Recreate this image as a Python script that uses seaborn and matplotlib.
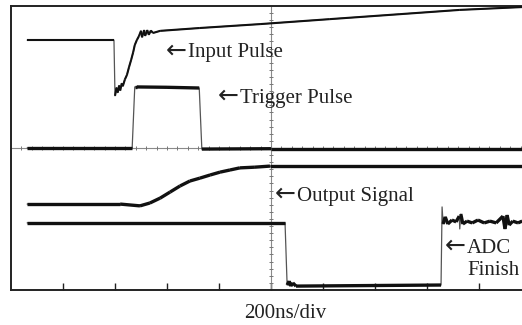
import numpy as np
import pandas as pd
import matplotlib
matplotlib.use("Agg")
import matplotlib.pyplot as plt
import seaborn as sns

# ---- data (time in divisions of 200 ns, amplitude in divisions) ----
input_t = [0.31, 1.98, 2.00, 2.03, 2.05, 2.08, 2.10, 2.13, 2.15, 2.19, 2.23, 2.27, 2.31, 2.35,
           2.38, 2.42, 2.46, 2.50, 2.52, 2.56, 2.58, 2.62, 2.65, 2.69, 2.73, 2.87, 3.63, 4.79,
           6.13, 7.48, 8.63, 9.83]
input_v = [3.04, 3.04, 1.47, 1.70, 1.56, 1.76, 1.62, 1.82, 1.74, 1.93, 2.06, 2.28, 2.48, 2.70,
           2.90, 3.04, 3.15, 3.30, 3.12, 3.32, 3.16, 3.32, 3.19, 3.31, 3.24, 3.30, 3.38, 3.49,
           3.63, 3.77, 3.89, 3.97]

trigger_t = [0.31, 2.33, 2.38, 2.42, 3.00, 3.62, 3.67, 5.00, 9.83]
trigger_v = [0.00, 0.00, 1.72, 1.72, 1.71, 1.69, -0.03, -0.02, -0.02]

output_t = [0.31, 2.10, 2.48, 2.67, 2.87, 3.06, 3.25, 3.44, 3.63, 3.83, 4.02, 4.21, 4.40, 4.69,
            4.98, 9.83]
output_v = [-1.58, -1.58, -1.63, -1.55, -1.41, -1.24, -1.07, -0.93, -0.85, -0.76, -0.68, -0.62,
            -0.56, -0.54, -0.51, -0.51]

adc_t = [0.31, 5.27, 5.31, 5.35, 5.38, 5.42, 5.48, 8.27, 8.29, 8.31, 8.35, 8.40, 8.48, 8.56,
         8.62, 8.63, 8.65, 8.69, 8.77, 8.87, 8.98, 9.10, 9.21, 9.33, 9.46, 9.50, 9.54, 9.58,
         9.65, 9.75, 9.83]
adc_v = [-2.11, -2.11, -3.86, -3.75, -3.89, -3.80, -3.89, -3.86, -1.66, -2.14, -1.94, -2.14,
         -2.03, -2.08, -1.92, -2.28, -1.86, -2.14, -2.06, -2.11, -2.03, -2.11, -2.06, -2.11,
         -1.92, -2.28, -1.89, -2.17, -2.06, -2.11, -2.06]

label_words = ["Input Pulse", "Trigger Pulse", "Output Signal", "ADC", "Finish"]
label_arrow = [True, True, True, True, False]
label_t = [3.00, 4.00, 5.10, 8.37, 8.77]
label_v = [2.56, 1.27, -1.49, -2.96, -3.58]
xlabel = "200ns/div"

traces = {"input": (input_t, input_v), "trigger": (trigger_t, trigger_v),
          "output": (output_t, output_v), "adc": (adc_t, adc_v)}

sns.set_style("white")
plt.rcParams["font.family"] = ["Liberation Serif", "DejaVu Serif"]

W, H = 522, 325
fig = plt.figure(figsize=(W / 100, H / 100), dpi=100)
ax = fig.add_axes([11 / W, 35 / H, 520 / W, 284 / H])
ax.set_xlim(0, 10)
ax.set_ylim(-4, 4)

# centre graticule lines with minor marks
ax.axhline(0, color="#8a8a8a", lw=0.8, zorder=1)
ax.axvline(5, color="#8a8a8a", lw=0.8, zorder=1)
mx = np.arange(0.2, 10, 0.2)
my = np.arange(-3.8, 4, 0.2)
ax.plot(mx, np.zeros_like(mx), ls="none", marker="|", ms=3, mew=0.7, color="#777777", zorder=1)
ax.plot(np.full_like(my, 5.0), my, ls="none", marker="_", ms=3, mew=0.7, color="#777777", zorder=1)

for name, (t, v) in traces.items():
    df = pd.DataFrame({"t": t, "v": v})
    sns.lineplot(data=df, x="t", y="v", ax=ax, color="#555555", lw=0.9,
                 estimator=None, sort=False, zorder=2)
    rows = []
    seg = 0
    for i in range(len(t) - 1):
        dt = t[i + 1] - t[i]
        slope = abs(v[i + 1] - v[i]) / dt if dt > 0 else 1e9
        if slope < 10:
            rows.append((t[i], v[i], seg))
            rows.append((t[i + 1], v[i + 1], seg))
            seg += 1
    sd = pd.DataFrame(rows, columns=["t", "v", "seg"])
    lw = 1.5 if name == "input" else 2.4
    sns.lineplot(data=sd, x="t", y="v", units="seg", ax=ax, color="#111111", lw=lw,
                 estimator=None, sort=False, zorder=3, solid_capstyle="butt")

for s, has_arrow, x, y in zip(label_words, label_arrow, label_t, label_v):
    if has_arrow:
        ax.annotate("\u2190", xy=(x, y), xytext=(-1, 0), textcoords="offset points",
                    fontsize=18, ha="left", va="baseline", color="#222222",
                    family=["DejaVu Sans"], zorder=4)
        ax.annotate(s, xy=(x, y), xytext=(15, 0), textcoords="offset points",
                    fontsize=15, ha="left", va="baseline", color="#222222", zorder=4)
    else:
        ax.text(x, y, s, fontsize=15, ha="left", va="baseline", color="#222222", zorder=4)

fig.text(285 / W, 1 - 318 / H, xlabel, fontsize=15, ha="center", va="baseline", color="#222222")

ax.set_xlabel("")
ax.set_ylabel("")
ax.set_xticks(np.arange(1, 10))
ax.set_yticks([])
ax.tick_params(axis="x", direction="in", length=5, width=1.0, color="#222222",
               labelbottom=False, bottom=True)
for side in ["left", "top", "bottom"]:
    ax.spines[side].set_visible(True)
    ax.spines[side].set_color("#222222")
    ax.spines[side].set_linewidth(1.4)
ax.spines["right"].set_visible(False)
if ax.get_legend():
    ax.get_legend().remove()

fig.savefig("out.png", dpi=100)
